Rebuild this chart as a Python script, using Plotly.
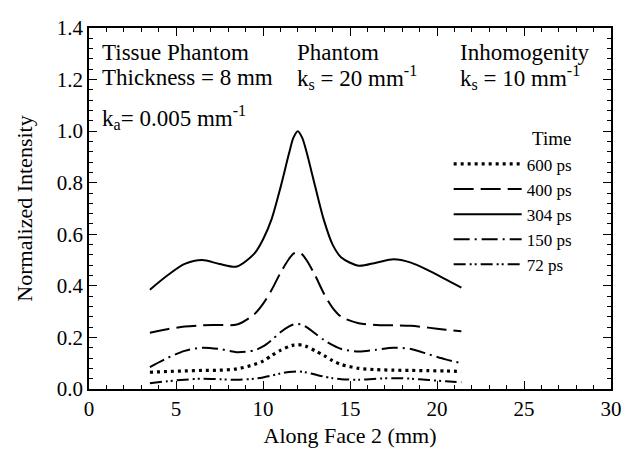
import plotly.graph_objects as go

# position along face 2 (mm)
x_mm = [3.5, 4.5, 5.5, 6.5, 7.5, 8.5, 9.5, 10, 10.5, 11, 11.5, 11.75, 12, 12.25, 12.5, 13,
        13.5, 14, 14.5, 15.5, 16.5, 17.5, 18.5, 19.5, 20.5, 21.4]

t600 = [0.065, 0.068, 0.070, 0.072, 0.073, 0.078, 0.095, 0.108, 0.130, 0.150, 0.165, 0.170, 0.172,
        0.170, 0.165, 0.148, 0.130, 0.110, 0.095, 0.080, 0.075, 0.073, 0.072, 0.071, 0.070, 0.068]
t400 = [0.218, 0.232, 0.242, 0.247, 0.248, 0.250, 0.290, 0.330, 0.385, 0.450, 0.505, 0.525, 0.530,
        0.522, 0.500, 0.440, 0.370, 0.315, 0.280, 0.255, 0.248, 0.247, 0.245, 0.238, 0.230, 0.224]
t304 = [0.385, 0.440, 0.485, 0.500, 0.485, 0.475, 0.525, 0.580, 0.660, 0.780, 0.915, 0.975, 1.000,
        0.975, 0.920, 0.785, 0.655, 0.560, 0.510, 0.478, 0.490, 0.503, 0.490, 0.460, 0.425, 0.393]
t150 = [0.085, 0.120, 0.148, 0.160, 0.155, 0.143, 0.150, 0.165, 0.190, 0.220, 0.243, 0.250, 0.252,
        0.249, 0.240, 0.215, 0.190, 0.170, 0.155, 0.145, 0.152, 0.160, 0.155, 0.135, 0.115, 0.100]
t72 = [0.022, 0.030, 0.036, 0.040, 0.038, 0.036, 0.040, 0.045, 0.052, 0.060, 0.066, 0.067, 0.068,
       0.067, 0.064, 0.056, 0.048, 0.042, 0.038, 0.036, 0.040, 0.042, 0.040, 0.035, 0.030, 0.026]

series_names = ["600 ps", "400 ps", "304 ps", "150 ps", "72 ps"]
series_values = [t600, t400, t304, t150, t72]
dashes = ["3px,4px", "20px,7px", "solid", "16px,5px,2px,5px", "12px,4px,2px,3px,2px,4px"]
widths = [3.2, 2, 2, 2, 2]

FONT = "Liberation Serif"

fig = go.Figure()
for name, vals, dash, w in zip(series_names, series_values, dashes, widths):
    fig.add_trace(go.Scatter(x=x_mm, y=vals, mode="lines", name=name,
                             line=dict(color="black", width=w, dash=dash, shape="spline", smoothing=0.8)))

axis_common = dict(showline=True, linecolor="black", linewidth=1.5, mirror="ticks",
                   ticks="inside", tickcolor="black", ticklen=8, tickwidth=1,
                   showgrid=False, zeroline=False, ticklabeloverflow="allow",
                   tickfont=dict(family=FONT, size=21, color="black"))

# page body adds an 8px offset, so the figure is sized to fit the 634x452 window
fig.update_layout(
    width=626, height=444,
    margin=dict(l=81, r=23, t=8, b=60),
    paper_bgcolor="white", plot_bgcolor="white",
    font=dict(family=FONT, color="black", size=20),
    xaxis=dict(range=[0, 30], dtick=5, tick0=0,
               minor=dict(dtick=1, ticklen=4, ticks="inside", tickcolor="black"),
               title=dict(text="Along Face 2 (mm)", font=dict(family=FONT, size=22), standoff=8),
               **axis_common),
    yaxis=dict(range=[0, 1.4], dtick=0.2, tick0=0, tickformat=".1f",
               minor=dict(dtick=0.04, ticklen=4, ticks="inside", tickcolor="black"),
               title=dict(text="Normalized Intensity", font=dict(family=FONT, size=22), standoff=18),
               **axis_common),
    legend=dict(x=0.689, y=0.672, xanchor="left", yanchor="top", bgcolor="rgba(0,0,0,0)",
                font=dict(family=FONT, size=17), itemwidth=68, tracegroupgap=0),
    showlegend=True,
)

ann = [
    (0.021, 0.932, "Tissue Phantom"),
    (0.021, 0.864, "Thickness = 8 mm"),
    (0.021, 0.753, "k<sub>a</sub>= 0.005 mm<sup>-1</sup>"),
    (0.395, 0.932, "Phantom"),
    (0.395, 0.864, "k<sub>s</sub> = 20 mm<sup>-1</sup>"),
    (0.707, 0.932, "Inhomogenity"),
    (0.707, 0.864, "k<sub>s</sub> = 10 mm<sup>-1</sup>"),
]
for ax_, ay_, txt in ann:
    fig.add_annotation(x=ax_, y=ay_, xref="paper", yref="paper", text=txt, showarrow=False,
                       xanchor="left", yanchor="middle", font=dict(family=FONT, size=23, color="black"))
fig.add_annotation(x=0.845, y=0.695, xref="paper", yref="paper", text="Time", showarrow=False,
                   xanchor="left", yanchor="middle", font=dict(family=FONT, size=19, color="black"))

fig.write_html("out.html")
